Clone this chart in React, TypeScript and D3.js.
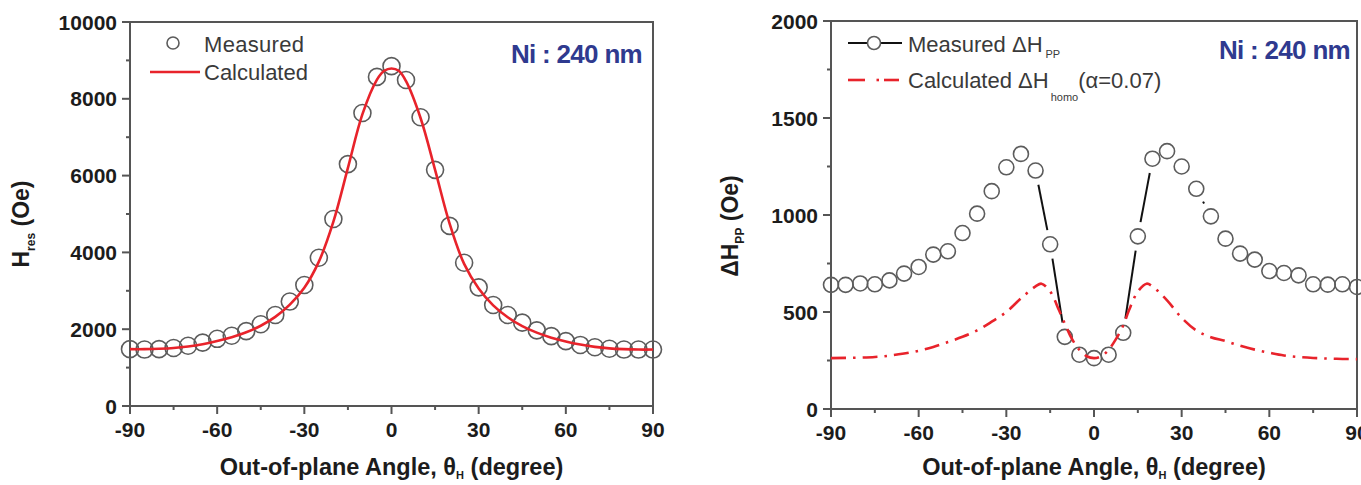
import * as d3 from "d3";

// FMR angle dependence of a 240 nm Ni film: resonance field (left) and
// peak-to-peak linewidth (right) versus out-of-plane field angle.

const FONT = "'Liberation Sans', Arial, Helvetica, sans-serif";
const AXIS = "#555555";
const LABEL = "#1c1c1c";
const LEGEND_TEXT = "#3a3a3a";
const RED = "#e8232b";
const MARKER = "#5c5c5c";
const NI_BLUE = "#2f3a8f";

// ---------------------------------------------------------------------------
// Data
// ---------------------------------------------------------------------------

const ANGLES = [
  -90, -85, -80, -75, -70, -65, -60, -55, -50, -45, -40, -35, -30, -25, -20, -15, -10, -5,
  0, 5, 10, 15, 20, 25, 30, 35, 40, 45, 50, 55, 60, 65, 70, 75, 80, 85, 90,
];

const HRES_MEASURED = [
  1480, 1470, 1480, 1510, 1570, 1650, 1750, 1830, 1950, 2130, 2370, 2720, 3150, 3860, 4870, 6300, 7630, 8570,
  8850, 8490, 7520, 6150, 4690, 3730, 3090, 2630, 2370, 2170, 1970, 1820, 1690, 1590, 1530, 1490, 1470, 1470, 1470,
];

const HRES_CALC_ANGLES = [
  -90, -85, -80, -75, -70, -65, -60, -55, -50, -45, -40, -35, -30, -25, -20, -15, -10, -5, -2.5,
  0, 2.5, 5, 10, 15, 20, 25, 30, 35, 40, 45, 50, 55, 60, 65, 70, 75, 80, 85, 90,
];
const HRES_CALC = [
  1480, 1480, 1490, 1510, 1550, 1610, 1690, 1790, 1920, 2090, 2320, 2640, 3080, 3760, 4800, 6200, 7600, 8500, 8730,
  8790, 8730, 8460, 7500, 6150, 4750, 3700, 3060, 2620, 2310, 2080, 1910, 1780, 1680, 1600, 1540, 1500, 1480, 1470, 1470,
];

const DHPP_MEASURED = [
  640, 640, 647, 643, 663, 698, 732, 796, 813, 907, 1007, 1123, 1246, 1315, 1229, 849, 372, 280,
  262, 280, 393, 890, 1290, 1329, 1250, 1135, 993, 878, 801, 770, 711, 701, 689, 643, 641, 643, 629,
];

const DHOMO_ANGLES = [
  -90, -80, -75, -70, -65, -60, -55, -50, -45, -40, -35, -30, -25, -20, -18, -15, -12, -10, -7.5, -5, -2.5,
  0, 2.5, 5, 7.5, 10, 12, 15, 18, 20, 25, 30, 35, 40, 45, 50, 55, 60, 65, 70, 75, 80, 85, 90,
];
const DHOMO_CALC = [
  262, 265, 268, 275, 286, 300, 320, 345, 372, 405, 450, 500, 570, 632, 646, 606, 510, 440, 360, 305, 272,
  262, 272, 305, 360, 430, 510, 605, 646, 632, 560, 470, 405, 370, 350, 326, 306, 290, 276, 268, 263, 260, 258, 257,
];

// Ticks
const X_TICKS = [-90, -60, -30, 0, 30, 60, 90];
const X_MINOR = [-75, -45, -15, 15, 45, 75];
const HRES_TICKS = [0, 2000, 4000, 6000, 8000, 10000];
const HRES_MINOR = [1000, 3000, 5000, 7000, 9000];
const DH_TICKS = [0, 500, 1000, 1500, 2000];
const DH_MINOR = [250, 750, 1250, 1750];

// ---------------------------------------------------------------------------
// Layout
// ---------------------------------------------------------------------------

const WIDTH = 1361;
const HEIGHT = 485;
const MAJOR = 8;
const MINOR = 4;

const xLeft = d3.scaleLinear().domain([-90, 90]).range([130, 653]);
const yLeft = d3.scaleLinear().domain([0, 10000]).range([406, 22]);
const xRight = d3.scaleLinear().domain([-90, 90]).range([831, 1357]);
const yRight = d3.scaleLinear().domain([0, 2000]).range([409, 21]);

type Scale = d3.ScaleLinear<number, number>;

// Boxed frame with outward ticks on the bottom and left edges only
function Frame({
  x, y, xTicks, xMinor, yTicks, yMinor,
}: { x: Scale; y: Scale; xTicks: number[]; xMinor: number[]; yTicks: number[]; yMinor: number[] }) {
  const [x0, x1] = x.range();
  const [y0, y1] = y.range();
  return (
    <g>
      <rect x={x0} y={y1} width={x1 - x0} height={y0 - y1} fill="none" stroke={AXIS} strokeWidth={2} />
      {xTicks.map((t) => (
        <g key={`xt${t}`}>
          <line x1={x(t)} x2={x(t)} y1={y0} y2={y0 + MAJOR} stroke={AXIS} strokeWidth={2} />
          <text x={x(t)} y={y0 + 31} textAnchor="middle" fontSize={21} fontWeight={700} fontFamily={FONT} fill={LABEL}>
            {t}
          </text>
        </g>
      ))}
      {xMinor.map((t) => (
        <line key={`xm${t}`} x1={x(t)} x2={x(t)} y1={y0} y2={y0 + MINOR} stroke={AXIS} strokeWidth={2} />
      ))}
      {yTicks.map((t) => (
        <g key={`yt${t}`}>
          <line x1={x0 - MAJOR} x2={x0} y1={y(t)} y2={y(t)} stroke={AXIS} strokeWidth={2} />
          <text x={x0 - 13} y={y(t)} dy="0.36em" textAnchor="end" fontSize={21} fontWeight={700} fontFamily={FONT} fill={LABEL}>
            {t}
          </text>
        </g>
      ))}
      {yMinor.map((t) => (
        <line key={`ym${t}`} x1={x0 - MINOR} x2={x0} y1={y(t)} y2={y(t)} stroke={AXIS} strokeWidth={2} />
      ))}
      <text x={(x0 + x1) / 2} y={475} textAnchor="middle" fontSize={23.5} fontWeight={700} fontFamily={FONT} fill={LABEL}>
        Out-of-plane Angle, θ
        <tspan fontSize={11} dy={4}>H</tspan>
        <tspan dy={-4}> (degree)</tspan>
      </text>
    </g>
  );
}

// Line pieces between consecutive points, trimmed back so they stop short of the symbols
function gappedSegments(pts: [number, number][], gap: number) {
  const segs: [number, number, number, number][] = [];
  for (let i = 0; i < pts.length - 1; i++) {
    const [ax, ay] = pts[i];
    const [bx, by] = pts[i + 1];
    const len = Math.hypot(bx - ax, by - ay);
    if (len <= gap * 2) continue;
    const ux = (bx - ax) / len;
    const uy = (by - ay) / len;
    segs.push([ax + ux * gap, ay + uy * gap, bx - ux * gap, by - uy * gap]);
  }
  return segs;
}

export default function App() {
  const hresCalcPath = d3
    .line<number>()
    .x((_, i) => xLeft(HRES_CALC_ANGLES[i]))
    .y((d) => yLeft(d))
    .curve(d3.curveCatmullRom.alpha(0.5))(HRES_CALC);

  const homoPath = d3
    .line<number>()
    .x((_, i) => xRight(DHOMO_ANGLES[i]))
    .y((d) => yRight(d))
    .curve(d3.curveCatmullRom.alpha(0.5))(DHOMO_CALC);

  const dhPts = DHPP_MEASURED.map((v, i) => [xRight(ANGLES[i]), yRight(v)] as [number, number]);
  const dhSegs = gappedSegments(dhPts, 14.5);

  return (
    <svg
      width={WIDTH}
      height={HEIGHT}
      style={{ position: "fixed", left: 0, top: 0, background: "#fff" }}
    >
      <rect width={WIDTH} height={HEIGHT} fill="#fff" />

      {/* ---------------- Left panel: resonance field ---------------- */}
      <Frame x={xLeft} y={yLeft} xTicks={X_TICKS} xMinor={X_MINOR} yTicks={HRES_TICKS} yMinor={HRES_MINOR} />
      <text transform="translate(29,224) rotate(-90)" textAnchor="middle" fontSize={23} fontWeight={700} fontFamily={FONT} fill={LABEL}>
        H
        <tspan fontSize={12} dy={6}>res</tspan>
        <tspan dy={-6}> (Oe)</tspan>
      </text>

      {ANGLES.map((a, i) => (
        <circle key={`hm${a}`} cx={xLeft(a)} cy={yLeft(HRES_MEASURED[i])} r={8.5} fill="none" stroke={MARKER} strokeWidth={1.6} />
      ))}
      <path d={hresCalcPath ?? ""} fill="none" stroke={RED} strokeWidth={2.6} />

      {/* legend */}
      <circle cx={173} cy={43} r={6} fill="none" stroke={MARKER} strokeWidth={1.6} />
      <text x={204} y={52} fontSize={22} fontFamily={FONT} fill={LEGEND_TEXT} letterSpacing={0.3}>Measured</text>
      <line x1={150} x2={200} y1={72} y2={72} stroke={RED} strokeWidth={2.6} />
      <text x={204} y={80} fontSize={22} fontFamily={FONT} fill={LEGEND_TEXT}>Calculated</text>

      <text x={642} y={63} textAnchor="end" fontSize={26} fontWeight={700} fontFamily={FONT} fill={NI_BLUE} letterSpacing={-0.7}>
        Ni : 240 nm
      </text>

      {/* ---------------- Right panel: linewidth ---------------- */}
      <Frame x={xRight} y={yRight} xTicks={X_TICKS} xMinor={X_MINOR} yTicks={DH_TICKS} yMinor={DH_MINOR} />
      <text transform="translate(738,226) rotate(-90)" textAnchor="middle" fontSize={23} fontWeight={700} fontFamily={FONT} fill={LABEL}>
        ΔH
        <tspan fontSize={12} dy={6}>PP</tspan>
        <tspan dy={-6}> (Oe)</tspan>
      </text>

      {dhSegs.map(([ax, ay, bx, by], i) => (
        <line key={`seg${i}`} x1={ax} y1={ay} x2={bx} y2={by} stroke="#111" strokeWidth={2} />
      ))}
      {ANGLES.map((a, i) => (
        <circle key={`dm${a}`} cx={xRight(a)} cy={yRight(DHPP_MEASURED[i])} r={7.5} fill="none" stroke={MARKER} strokeWidth={1.6} />
      ))}
      <path d={homoPath ?? ""} fill="none" stroke={RED} strokeWidth={2.6} strokeDasharray="15 7 2.5 7" />

      {/* legend */}
      <line x1={848} x2={867} y1={43} y2={43} stroke="#111" strokeWidth={2} />
      <line x1={881} x2={902} y1={43} y2={43} stroke="#111" strokeWidth={2} />
      <circle cx={874} cy={43} r={6.5} fill="none" stroke={MARKER} strokeWidth={1.6} />
      <text x={908} y={52} fontSize={22} fontFamily={FONT} fill={LEGEND_TEXT}>
        Measured ΔH
        <tspan fontSize={11} dx={3} dy={6}>PP</tspan>
      </text>
      <line x1={848} x2={865} y1={80} y2={80} stroke={RED} strokeWidth={2.6} />
      <line x1={876.5} x2={879} y1={80} y2={80} stroke={RED} strokeWidth={2.6} />
      <line x1={884} x2={899} y1={80} y2={80} stroke={RED} strokeWidth={2.6} />
      <text x={908} y={88} fontSize={22} fontFamily={FONT} fill={LEGEND_TEXT}>
        Calculated ΔH
        <tspan fontSize={11} dx={2} dy={13}>homo</tspan>
        <tspan dy={-13}>(α=0.07)</tspan>
      </text>

      <text x={1350} y={59} textAnchor="end" fontSize={26} fontWeight={700} fontFamily={FONT} fill={NI_BLUE} letterSpacing={-0.7}>
        Ni : 240 nm
      </text>
    </svg>
  );
}
